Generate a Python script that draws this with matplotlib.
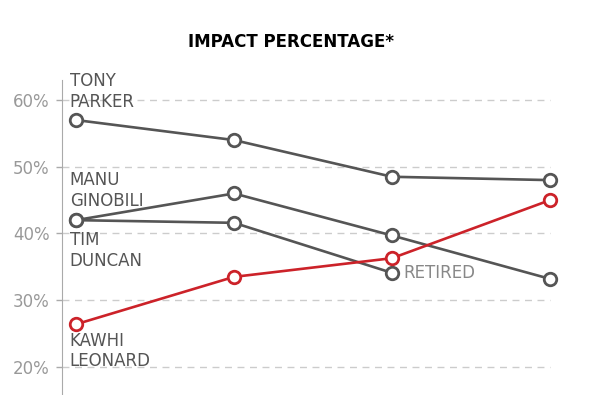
import matplotlib
matplotlib.use("Agg")
import matplotlib.pyplot as plt

# seasons (x positions) and impact percentage per player
seasons = [0, 1, 2, 3]
tony_parker = [57.0, 54.0, 48.5, 48.0]
manu_ginobili = [42.0, 46.0, 39.7, 33.2]
tim_duncan = [42.0, 41.6, 34.1]
kawhi_leonard = [26.4, 33.5, 36.3, 45.0]
yticks = [20, 30, 40, 50, 60]

GRAY = '#555555'
RED = '#cc2229'

fig = plt.figure(figsize=(5.92, 3.95), dpi=100, facecolor='w')
ax = fig.add_axes([62 / 592, 0, 518 / 592, 315 / 395])
ax.set_xlim(-14 / 158, 504 / 158)
ax.set_ylim(15.8, 63.0)

# dashed gridlines, only up to the last season
for y in yticks:
    ax.plot([ax.get_xlim()[0], seasons[-1]], [y, y], color='#cccccc',
            lw=1, ls=(0, (5, 4)), zorder=1)

def draw(xs, ys, color):
    ax.plot(xs, ys, color=color, lw=1.9, marker='o', ms=9, mfc='white',
            mec=color, mew=2, zorder=3, clip_on=False)

draw(seasons, tony_parker, GRAY)
draw(seasons, manu_ginobili, GRAY)
draw(seasons[:3], tim_duncan, GRAY)
draw(seasons, kawhi_leonard, RED)

# labels
lab = dict(color=GRAY, fontsize=12, va='top', ha='left')
ax.text(-0.04, 64.2, 'TONY\nPARKER', **lab)
ax.text(-0.04, 49.4, 'MANU\nGINOBILI', **lab)
ax.text(-0.04, 40.3, 'TIM\nDUNCAN', **lab)
ax.text(-0.04, 25.3, 'KAWHI\nLEONARD', **lab)
ax.text(2.07, 34.1, 'RETIRED', color='#888888', fontsize=12, va='center', ha='left')

ax.set_yticks(yticks)
ax.set_yticklabels(['%d%%' % v for v in yticks])
ax.tick_params(axis='y', length=4, width=1, color='#aaaaaa', pad=5,
               labelsize=12, labelcolor='#999999')
ax.set_xticks([])
for s in ['top', 'right', 'bottom']:
    ax.spines[s].set_visible(False)
ax.spines['left'].set_color('#aaaaaa')

fig.text(291 / 592, 1 - 42 / 395, 'IMPACT PERCENTAGE*', fontsize=12,
         fontweight='bold', ha='center', va='center')

plt.savefig('out.png', dpi=100)
